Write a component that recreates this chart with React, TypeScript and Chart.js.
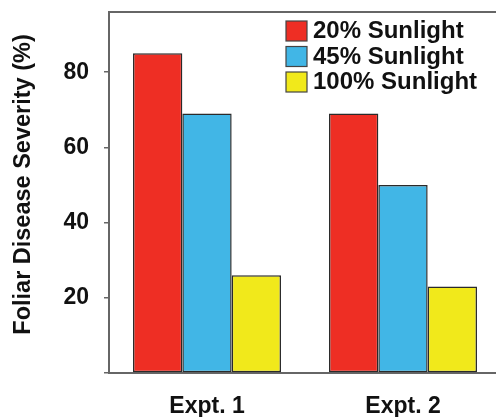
import React, { useEffect, useRef } from "react";
import { Chart, registerables } from "chart.js";

Chart.register(...registerables);

const categories = ["Expt. 1", "Expt. 2"];
const seriesLabels = ["20% Sunlight", "45% Sunlight", "100% Sunlight"];
const sunlight20 = [85, 69];
const sunlight45 = [69, 50];
const sunlight100 = [26, 23];
const seriesColors = ["#EE2E24", "#41B6E6", "#F1E91B"];
const yTitle = "Foliar Disease Severity (%)";

const FONT = '"Liberation Sans", Arial, Helvetica, sans-serif';

const boxPlugin = {
  id: "boxAndLegend",
  afterDatasetsDraw(chart: any) {
    const { ctx, chartArea } = chart;
    ctx.save();
    // top frame line
    ctx.strokeStyle = "#666";
    ctx.lineWidth = 2;
    ctx.beginPath();
    ctx.moveTo(chartArea.left, chartArea.top);
    ctx.lineTo(chartArea.right, chartArea.top);
    ctx.stroke();
    // y-axis title
    ctx.save();
    ctx.translate(24, (chartArea.top + chartArea.bottom) / 2 - 8);
    ctx.rotate(-Math.PI / 2);
    ctx.font = `bold 23.5px ${FONT}`;
    ctx.fillStyle = "#111";
    ctx.textAlign = "center";
    ctx.textBaseline = "middle";
    ctx.fillText(yTitle, 0, 0);
    ctx.restore();
    // legend
    const x0 = 286;
    const bw = 21;
    const bh = 20;
    const step = 25.5;
    const y0 = chartArea.top + 9;
    ctx.font = `bold 24px ${FONT}`;
    ctx.textBaseline = "middle";
    ctx.textAlign = "left";
    chart.data.datasets.forEach((ds: any, i: number) => {
      const y = y0 + i * step;
      ctx.fillStyle = ds.backgroundColor;
      ctx.fillRect(x0, y, bw, bh);
      ctx.strokeStyle = "#444";
      ctx.lineWidth = 1.2;
      ctx.strokeRect(x0, y, bw, bh);
      ctx.fillStyle = "#111";
      ctx.fillText(ds.label, x0 + 27, y + bh / 2 + 0.5);
    });
    ctx.restore();
  },
};

export default function App() {
  const ref = useRef<HTMLCanvasElement | null>(null);
  useEffect(() => {
    document.body.style.margin = "0";
    document.body.style.overflow = "hidden";
    const datasets = [sunlight20, sunlight45, sunlight100].map((d, i) => ({
      label: seriesLabels[i],
      data: d,
      backgroundColor: seriesColors[i],
      borderColor: "#2a2a2a",
      borderWidth: 1.5,
      borderSkipped: false,
      categoryPercentage: 0.755,
      barPercentage: 1.0,
    }));
    const chart = new Chart(ref.current as HTMLCanvasElement, {
      type: "bar",
      data: { labels: categories, datasets },
      options: {
        animation: false,
        responsive: false,
        devicePixelRatio: 1,
        layout: { padding: { top: 12, left: 0, right: 0, bottom: 0 } },
        plugins: { legend: { display: false }, tooltip: { enabled: false } },
        scales: {
          x: {
            grid: { display: false },
            border: { display: true, color: "#666", width: 2 },
            ticks: {
              color: "#111",
              padding: 12,
              font: { family: FONT, size: 23, weight: "bold" },
            },
            afterFit: (s: any) => {
              s.height = 44;
              s.paddingLeft = 0;
              s.paddingRight = 0;
            },
          },
          y: {
            min: 0,
            max: 96,
            grid: {
              display: true,
              drawOnChartArea: false,
              drawTicks: true,
              tickLength: 5,
              color: "#666",
              lineWidth: 1.5,
            },
            border: { display: true, color: "#666", width: 2 },
            ticks: {
              stepSize: 20,
              includeBounds: false,
              color: "#111",
              padding: 15,
              font: { family: FONT, size: 23, weight: "bold" },
              callback: (v: any) => (v === 0 ? "" : String(v)),
            },
            title: { display: false, text: yTitle },
            afterFit: (s: any) => {
              s.width = 109;
              s.paddingTop = 0;
              s.paddingBottom = 0;
            },
          },
        },
      },
      plugins: [boxPlugin],
    } as any);
    return () => chart.destroy();
  }, []);
  return (
    <div style={{ width: 496, height: 417, overflow: "hidden", position: "relative" }}>
      <canvas ref={ref} width={501} height={417} style={{ width: 501, height: 417, display: "block" }} />
    </div>
  );
}
